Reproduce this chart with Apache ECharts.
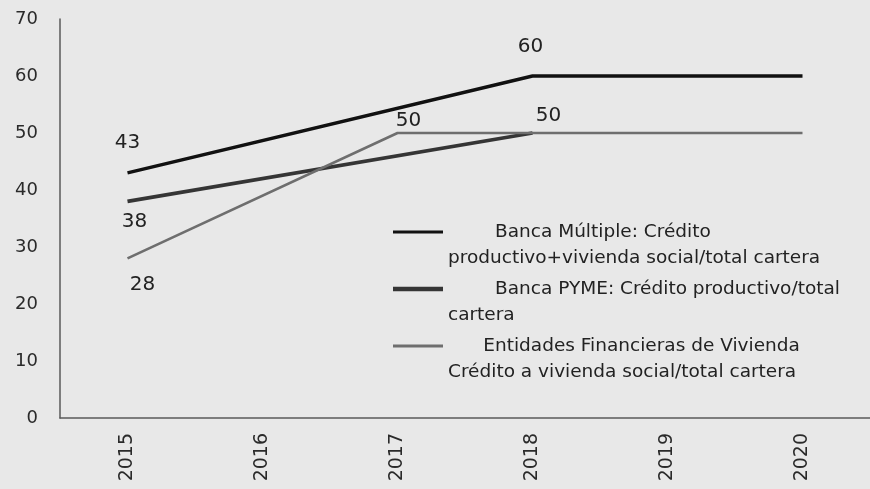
<!DOCTYPE html>
<html>
<head>
<meta charset="utf-8">
<script src="https://cdn.jsdelivr.net/npm/echarts@6/dist/echarts.min.js"></script>
<style>
html,body{margin:0;padding:0;background:#e8e8e8;}
#chart{width:870px;height:489px;}
</style>
</head>
<body>
<div id="chart"></div>
<script>
// ---- data ----
const years = ['2015', '2016', '2017', '2018', '2019', '2020'];
const seriesNames = [
  'Banca Múltiple: Crédito productivo+vivienda social/total cartera',
  'Banca PYME: Crédito productivo/total cartera',
  'Entidades Financieras de Vivienda Crédito a vivienda social/total cartera'
];
const bancaMultiple = [43, null, null, 60, 60, 60];
const bancaPyme = [38, null, null, 50, null, null];
const entidadesVivienda = [28, null, 50, 50, 50, 50];
const yTicks = [0, 10, 20, 30, 40, 50, 60, 70];

// ---- presentation ----
const legendText = [
  '        Banca Múltiple: Crédito\nproductivo+vivienda social/total cartera',
  '        Banca PYME: Crédito productivo/total\ncartera',
  '      Entidades Financieras de Vivienda\nCrédito a vivienda social/total cartera'
];
const colors = ['#111111', '#353535', '#6e6e6e'];
const widths = [3.4, 3.8, 2.6];
// labels: series index -> {dataIndex: [position, offset]}
const labelSpec = [
  {0: ['top', [0, -15]], 3: ['top', [-2, -14]]},
  {0: ['bottom', [7, 5]], 3: ['top', [16, -2]]},
  {0: ['bottom', [15, 11]], 2: ['top', [11, 3]]}
];
const values = [bancaMultiple, bancaPyme, entidadesVivienda];

function buildData(si) {
  return values[si].map(function (v, i) {
    const spec = labelSpec[si][i];
    if (!spec || v == null) return v;
    return {
      value: v,
      label: {show: true, position: spec[0], offset: spec[1]}
    };
  });
}

function iconPath(thick) {
  const c = 13;
  const a = (c - thick / 2).toFixed(2), b = (c + thick / 2).toFixed(2);
  return 'path://M0,0L0,0ZM0,52L0,52ZM50,0L50,0ZM' + '0,' + a + 'L50,' + a + 'L50,' + b + 'L0,' + b + 'Z';
}

const chart = echarts.init(document.getElementById('chart'), null, {renderer: 'canvas'});
const textFont = 'DejaVu Sans, Liberation Sans, sans-serif';

chart.setOption({
  backgroundColor: '#e8e8e8',
  animation: false,
  textStyle: {fontFamily: textFont},
  grid: {left: 60, right: 0, top: 19, bottom: 71, containLabel: false},
  legend: {
    orient: 'vertical',
    left: 393,
    top: 219,
    padding: 0,
    itemGap: 5,
    itemWidth: 50,
    itemHeight: 52,
    selectedMode: false,
    data: seriesNames.map(function (n, i) {
      return {name: n, icon: iconPath([3, 4.5, 3][i])};
    }),
    formatter: function (name) { return legendText[seriesNames.indexOf(name)]; },
    textStyle: {fontFamily: textFont, fontSize: 18.5, color: '#222', lineHeight: 26}
  },
  xAxis: {
    type: 'category',
    data: years,
    boundaryGap: true,
    axisLine: {lineStyle: {color: '#5a5a5a', width: 1.5}},
    axisTick: {show: false},
    axisLabel: {rotate: 90, margin: 15, fontSize: 19, color: '#2a2a2a', fontFamily: textFont}
  },
  yAxis: {
    type: 'value',
    min: yTicks[0],
    max: yTicks[yTicks.length - 1],
    interval: 10,
    axisLine: {show: true, lineStyle: {color: '#5a5a5a', width: 1.5}},
    axisTick: {show: false},
    splitLine: {show: false},
    axisLabel: {margin: 22, fontSize: 18, color: '#2a2a2a', fontFamily: textFont}
  },
  series: seriesNames.map(function (n, si) {
    return {
      name: n,
      type: 'line',
      data: buildData(si),
      connectNulls: true,
      symbol: 'circle',
      symbolSize: 0,
      showSymbol: true,
      color: colors[si],
      lineStyle: {color: colors[si], width: widths[si]},
      itemStyle: {color: colors[si]},
      label: {show: false, fontSize: 20, color: '#222', fontFamily: textFont},
      z: [3, 2, 4][si]
    };
  })
});
</script>
</body>
</html>
